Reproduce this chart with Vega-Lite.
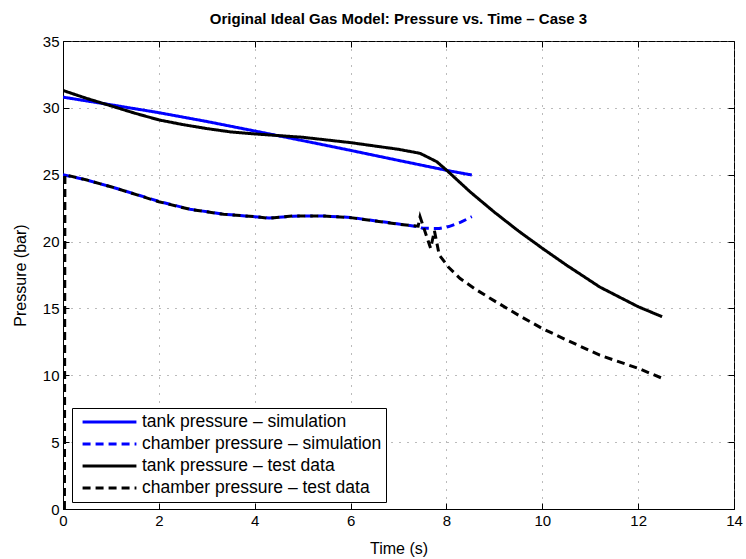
{
  "$schema": "https://vega.github.io/schema/vega-lite/v6.json",
  "autosize": "none",
  "width": 671,
  "height": 468,
  "padding": {"left": 63, "top": 41, "right": 12, "bottom": 50},
  "background": "white",
  "title": {
    "text": "Original Ideal Gas Model:  Pressure vs. Time – Case 3",
    "font": "Liberation Sans",
    "fontSize": 15,
    "fontWeight": "bold",
    "color": "black",
    "anchor": "middle",
    "offset": 7
  },
  "config": {
    "view": {"stroke": "black", "strokeWidth": 1},
    "axis": {
      "labelFont": "Liberation Sans",
      "labelFontSize": 15,
      "labelColor": "black",
      "titleFont": "Liberation Sans",
      "titleFontSize": 16,
      "titleFontWeight": "normal",
      "titleColor": "black",
      "domainColor": "black",
      "tickColor": "black",
      "tickSize": -6,
      "labelPadding": 10,
      "gridColor": "#777777",
      "gridDash": [1, 7],
      "gridOpacity": 1,
      "gridWidth": 1
    }
  },
  "data": {
    "values": [
      {"series": "tank pressure – simulation", "t": 0.0, "p": 30.8},
      {"series": "tank pressure – simulation", "t": 1.0, "p": 30.23},
      {"series": "tank pressure – simulation", "t": 2.0, "p": 29.64},
      {"series": "tank pressure – simulation", "t": 3.0, "p": 28.98},
      {"series": "tank pressure – simulation", "t": 4.0, "p": 28.27},
      {"series": "tank pressure – simulation", "t": 5.0, "p": 27.55},
      {"series": "tank pressure – simulation", "t": 6.0, "p": 26.82},
      {"series": "tank pressure – simulation", "t": 7.0, "p": 26.07},
      {"series": "tank pressure – simulation", "t": 8.07, "p": 25.28},
      {"series": "tank pressure – simulation", "t": 8.53, "p": 24.98},

      {"series": "chamber pressure – simulation", "t": 0.0, "p": 25.0},
      {"series": "chamber pressure – simulation", "t": 0.5, "p": 24.6},
      {"series": "chamber pressure – simulation", "t": 1.0, "p": 24.1},
      {"series": "chamber pressure – simulation", "t": 1.6, "p": 23.45},
      {"series": "chamber pressure – simulation", "t": 2.0, "p": 23.0},
      {"series": "chamber pressure – simulation", "t": 2.65, "p": 22.42},
      {"series": "chamber pressure – simulation", "t": 3.35, "p": 22.05},
      {"series": "chamber pressure – simulation", "t": 4.0, "p": 21.86},
      {"series": "chamber pressure – simulation", "t": 4.3, "p": 21.76},
      {"series": "chamber pressure – simulation", "t": 4.8, "p": 21.9},
      {"series": "chamber pressure – simulation", "t": 5.4, "p": 21.92},
      {"series": "chamber pressure – simulation", "t": 6.0, "p": 21.8},
      {"series": "chamber pressure – simulation", "t": 6.5, "p": 21.56},
      {"series": "chamber pressure – simulation", "t": 7.0, "p": 21.32},
      {"series": "chamber pressure – simulation", "t": 7.42, "p": 21.1},
      {"series": "chamber pressure – simulation", "t": 7.5, "p": 21.0},
      {"series": "chamber pressure – simulation", "t": 7.85, "p": 20.98},
      {"series": "chamber pressure – simulation", "t": 8.05, "p": 21.12},
      {"series": "chamber pressure – simulation", "t": 8.3, "p": 21.45},
      {"series": "chamber pressure – simulation", "t": 8.53, "p": 21.86},

      {"series": "tank pressure – test data", "t": 0.0, "p": 31.3},
      {"series": "tank pressure – test data", "t": 0.5, "p": 30.7},
      {"series": "tank pressure – test data", "t": 1.0, "p": 30.15},
      {"series": "tank pressure – test data", "t": 1.5, "p": 29.6},
      {"series": "tank pressure – test data", "t": 2.0, "p": 29.1},
      {"series": "tank pressure – test data", "t": 2.5, "p": 28.75},
      {"series": "tank pressure – test data", "t": 3.0, "p": 28.45},
      {"series": "tank pressure – test data", "t": 3.5, "p": 28.2},
      {"series": "tank pressure – test data", "t": 4.0, "p": 28.05},
      {"series": "tank pressure – test data", "t": 5.0, "p": 27.8},
      {"series": "tank pressure – test data", "t": 6.0, "p": 27.4},
      {"series": "tank pressure – test data", "t": 7.0, "p": 26.9},
      {"series": "tank pressure – test data", "t": 7.45, "p": 26.6},
      {"series": "tank pressure – test data", "t": 7.8, "p": 25.97},
      {"series": "tank pressure – test data", "t": 8.0, "p": 25.35},
      {"series": "tank pressure – test data", "t": 8.5, "p": 23.7},
      {"series": "tank pressure – test data", "t": 9.0, "p": 22.2},
      {"series": "tank pressure – test data", "t": 9.5, "p": 20.8},
      {"series": "tank pressure – test data", "t": 10.0, "p": 19.5},
      {"series": "tank pressure – test data", "t": 10.5, "p": 18.25},
      {"series": "tank pressure – test data", "t": 11.2, "p": 16.6},
      {"series": "tank pressure – test data", "t": 12.0, "p": 15.13},
      {"series": "tank pressure – test data", "t": 12.5, "p": 14.38},

      {"series": "chamber pressure – test data", "t": 0.03, "p": 0.0},
      {"series": "chamber pressure – test data", "t": 0.04, "p": 25.0},
      {"series": "chamber pressure – test data", "t": 0.5, "p": 24.6},
      {"series": "chamber pressure – test data", "t": 1.0, "p": 24.1},
      {"series": "chamber pressure – test data", "t": 1.6, "p": 23.43},
      {"series": "chamber pressure – test data", "t": 2.0, "p": 22.98},
      {"series": "chamber pressure – test data", "t": 2.65, "p": 22.41},
      {"series": "chamber pressure – test data", "t": 3.35, "p": 22.04},
      {"series": "chamber pressure – test data", "t": 4.0, "p": 21.86},
      {"series": "chamber pressure – test data", "t": 4.3, "p": 21.74},
      {"series": "chamber pressure – test data", "t": 4.8, "p": 21.91},
      {"series": "chamber pressure – test data", "t": 5.4, "p": 21.91},
      {"series": "chamber pressure – test data", "t": 6.0, "p": 21.79},
      {"series": "chamber pressure – test data", "t": 6.5, "p": 21.55},
      {"series": "chamber pressure – test data", "t": 7.0, "p": 21.3},
      {"series": "chamber pressure – test data", "t": 7.41, "p": 21.15},
      {"series": "chamber pressure – test data", "t": 7.45, "p": 21.85},
      {"series": "chamber pressure – test data", "t": 7.67, "p": 19.5},
      {"series": "chamber pressure – test data", "t": 7.75, "p": 20.8},
      {"series": "chamber pressure – test data", "t": 7.85, "p": 19.0},
      {"series": "chamber pressure – test data", "t": 8.04, "p": 18.1},
      {"series": "chamber pressure – test data", "t": 8.28, "p": 17.25},
      {"series": "chamber pressure – test data", "t": 8.6, "p": 16.45},
      {"series": "chamber pressure – test data", "t": 8.91, "p": 15.76},
      {"series": "chamber pressure – test data", "t": 9.5, "p": 14.5},
      {"series": "chamber pressure – test data", "t": 10.0, "p": 13.5},
      {"series": "chamber pressure – test data", "t": 10.5, "p": 12.65},
      {"series": "chamber pressure – test data", "t": 11.2, "p": 11.5},
      {"series": "chamber pressure – test data", "t": 12.0, "p": 10.52},
      {"series": "chamber pressure – test data", "t": 12.5, "p": 9.78}
    ]
  },
  "layer": [
    {
      "mark": {"type": "line", "strokeWidth": 3, "clip": true, "strokeCap": "butt"},
      "encoding": {
        "x": {
          "field": "t", "type": "quantitative", "title": "Time (s)",
          "scale": {"domain": [0, 14], "nice": false, "zero": false},
          "axis": {"values": [0, 2, 4, 6, 8, 10, 12, 14], "titlePadding": 12, "labelPadding": 10, "labelFlush": false}
        },
        "y": {
          "field": "p", "type": "quantitative", "title": "Pressure (bar)",
          "scale": {"domain": [0, 35], "nice": false, "zero": false},
          "axis": {"values": [0, 5, 10, 15, 20, 25, 30, 35], "titlePadding": 14, "labelPadding": 10, "labelFlush": false}
        },
        "color": {
          "field": "series", "type": "nominal",
          "scale": {
            "domain": ["tank pressure – simulation", "chamber pressure – simulation", "tank pressure – test data", "chamber pressure – test data"],
            "range": ["#0000ff", "#0000ff", "#000000", "#000000"]
          },
          "legend": {
            "title": null,
            "orient": "none",
            "legendX": 9,
            "legendY": 367,
            "symbolType": "stroke",
            "symbolSize": 2900,
            "symbolStrokeWidth": 3,
            "symbolOffset": 5,
            "clipHeight": 20,
            "labelFont": "Liberation Sans",
            "labelFontSize": 17.5,
            "labelColor": "black",
            "strokeColor": "black",
            "fillColor": "white",
            "padding": 4,
            "rowPadding": 2,
            "labelLimit": 400
          }
        },
        "strokeDash": {
          "field": "series", "type": "nominal",
          "scale": {
            "domain": ["tank pressure – simulation", "chamber pressure – simulation", "tank pressure – test data", "chamber pressure – test data"],
            "range": [[1, 0], [8, 5], [1, 0], [8, 5]]
          },
          "legend": null
        }
      }
    },
    {
      "mark": {"type": "line", "opacity": 0},
      "encoding": {
        "x": {
          "field": "t", "type": "quantitative",
          "scale": {"domain": [0, 14], "nice": false, "zero": false},
          "axis": {"orient": "top", "values": [0, 2, 4, 6, 8, 10, 12, 14], "labels": false, "grid": false, "title": null, "domain": false}
        },
        "y": {
          "field": "p", "type": "quantitative",
          "scale": {"domain": [0, 35], "nice": false, "zero": false},
          "axis": {"orient": "right", "values": [0, 5, 10, 15, 20, 25, 30, 35], "labels": false, "grid": false, "title": null, "domain": false}
        }
      }
    }
  ],
  "resolve": {"axis": {"x": "independent", "y": "independent"}}
}
